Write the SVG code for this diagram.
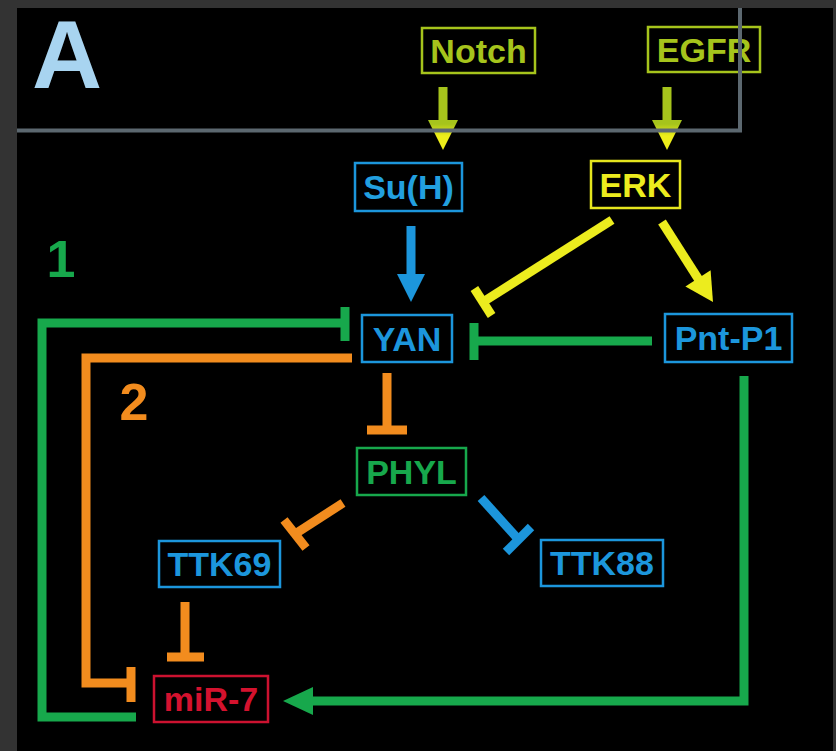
<svg xmlns="http://www.w3.org/2000/svg" width="836" height="751" viewBox="0 0 836 751">
<defs>
<style>
.box{fill:#000;stroke-width:2.5}
.lbl{font-family:"Liberation Sans",Arial,sans-serif;font-weight:bold;font-size:34px;text-anchor:middle}
.big{font-family:"Liberation Sans",Arial,sans-serif;font-weight:bold}
.yg{stroke:#a6c41c}
.ye{stroke:#ecec1e}
.bl{stroke:#1c96dc}
.gr{stroke:#17a84c}
.or{stroke:#f28c1e}
.ln{fill:none;stroke-width:9;stroke-linejoin:miter;stroke-linecap:butt}
.fye{fill:#ecec1e;stroke:none}
.fbl{fill:#1c96dc;stroke:none}
.fgr{fill:#17a84c;stroke:none}
</style>
<linearGradient id="gyg" gradientUnits="userSpaceOnUse" x1="0" y1="124" x2="0" y2="136">
<stop offset="0" stop-color="#a6c41c"/><stop offset="1" stop-color="#eeee1a"/>
</linearGradient>
</defs>
<rect x="0" y="0" width="836" height="751" fill="#333333"/>
<rect x="17" y="8" width="816" height="743" fill="#000000"/>

<text class="big" x="32" y="88" font-size="97" fill="#a8d4f0">A</text>
<text class="big" x="61" y="277" font-size="52" fill="#17a84c" text-anchor="middle">1</text>
<text class="big" x="134" y="420" font-size="52" fill="#f28c1e" text-anchor="middle">2</text>

<g id="connectors">
<!-- Notch -> Su(H), EGFR -> ERK -->
<g fill="url(#gyg)" stroke="none">
<rect x="438.5" y="87" width="9" height="34"/>
<polygon points="428,120 458,120 443,150"/>
<rect x="662.5" y="87" width="9" height="34"/>
<polygon points="652,120 682,120 667,150"/>
</g>
<!-- Su(H) -> YAN -->
<line class="ln bl" x1="411" y1="226" x2="411" y2="276"/>
<polygon class="fbl" points="397,274 425,274 411,302"/>
<!-- ERK -| YAN -->
<line class="ln ye" x1="612" y1="220" x2="483" y2="302"/>
<line class="ln ye" x1="474.4" y1="288.5" x2="491.6" y2="315.5"/>
<!-- ERK -> Pnt-P1 -->
<line class="ln ye" x1="662" y1="222" x2="699" y2="280"/>
<polygon class="fye" points="710.6,270.3 685.4,286.5 713,302"/>
<!-- Pnt-P1 -| YAN -->
<line class="ln gr" x1="652" y1="341" x2="474" y2="341"/>
<line class="ln gr" x1="474" y1="323" x2="474" y2="360"/>
<!-- miR-7 -| YAN (loop 1) -->
<path class="ln gr" d="M136,717 H42 V323 H345"/>
<line class="ln gr" x1="345" y1="307" x2="345" y2="341"/>
<!-- YAN -| miR-7 (loop 2) -->
<path class="ln or" d="M352,358 H86 V683 H131"/>
<line class="ln or" x1="131" y1="667" x2="131" y2="702"/>
<!-- YAN -| PHYL -->
<line class="ln or" x1="387" y1="373" x2="387" y2="430"/>
<line class="ln or" x1="367" y1="430" x2="407" y2="430"/>
<!-- PHYL -| TTK69 -->
<line class="ln or" x1="343" y1="503" x2="295" y2="534"/>
<line class="ln or" x1="284" y1="520" x2="306" y2="548"/>
<!-- PHYL -| TTK88 -->
<line class="ln bl" x1="481" y1="498" x2="518.5" y2="539.5"/>
<line class="ln bl" x1="506" y1="552" x2="531" y2="527"/>
<!-- TTK69 -| miR-7 -->
<line class="ln or" x1="185" y1="602" x2="185" y2="657"/>
<line class="ln or" x1="167" y1="657" x2="204" y2="657"/>
<!-- Pnt-P1 -> miR-7 -->
<path class="ln gr" d="M744,376 V701 H310"/>
<polygon class="fgr" points="313,687 313,715 283,701"/>
</g>

<g id="Notch"><rect class="box" x="422" y="28" width="113" height="45" stroke="#a6c41c"/><text class="lbl" x="478.5" y="62.5" fill="#a6c41c">Notch</text></g>
<g id="EGFR"><rect class="box" x="648" y="27" width="112" height="45" stroke="#a6c41c"/><text class="lbl" x="704" y="61.5" fill="#a6c41c">EGFR</text></g>
<g id="SuH"><rect class="box" x="355" y="163" width="107" height="48" stroke="#1c96dc"/><text class="lbl" x="408.5" y="199" fill="#22a0e0">Su(H)</text></g>
<g id="ERK"><rect class="box" x="591" y="161" width="89" height="47" stroke="#e6e61e"/><text class="lbl" x="635.5" y="196.5" fill="#ecec1e">ERK</text></g>
<g id="YAN"><rect class="box" x="362" y="315" width="90" height="47" stroke="#1c96dc"/><text class="lbl" x="407" y="350.5" fill="#1c96dc">YAN</text></g>
<g id="PntP1"><rect class="box" x="665" y="314" width="127" height="48" stroke="#1c96dc"/><text class="lbl" x="728.5" y="350" fill="#1c96dc">Pnt-P1</text></g>
<g id="PHYL"><rect class="box" x="357" y="448" width="109" height="47" stroke="#17a84c"/><text class="lbl" x="411.5" y="483.5" fill="#17a84c">PHYL</text></g>
<g id="TTK69"><rect class="box" x="159" y="541" width="121" height="46" stroke="#1c96dc"/><text class="lbl" x="219.5" y="576" fill="#1c96dc">TTK69</text></g>
<g id="TTK88"><rect class="box" x="541" y="540" width="122" height="46" stroke="#1c96dc"/><text class="lbl" x="602" y="575" fill="#1c96dc">TTK88</text></g>
<g id="miR7"><rect class="box" x="154" y="676" width="114" height="46" stroke="#cc1230"/><text class="lbl" x="211" y="711" fill="#d4122e">miR-7</text></g>

<path d="M17,130.5 H740 V8" fill="none" stroke="#5c6870" stroke-width="4"/>
</svg>
